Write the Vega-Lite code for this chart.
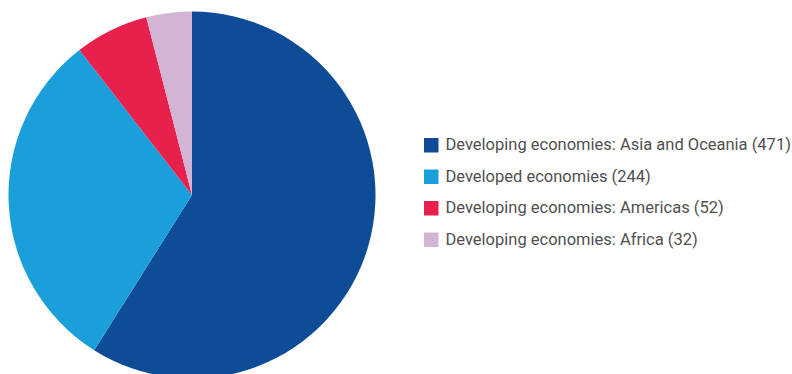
{
  "$schema": "https://vega.github.io/schema/vega-lite/v6.json",
  "width": 792,
  "height": 374,
  "autosize": "none",
  "padding": 0,
  "background": "white",
  "config": {"view": {"stroke": null}},
  "data": {"values": [
    {"label": "Developing economies: Asia and Oceania (471)", "value": 471, "rank": 1},
    {"label": "Developed economies (244)", "value": 244, "rank": 2},
    {"label": "Developing economies: Americas (52)", "value": 52, "rank": 3},
    {"label": "Developing economies: Africa (32)", "value": 32, "rank": 4}
  ]},
  "mark": {"type": "arc", "outerRadius": 183.5, "xOffset": -204, "yOffset": 8},
  "encoding": {
    "theta": {"field": "value", "type": "quantitative", "stack": true},
    "order": {"field": "rank", "type": "quantitative"},
    "color": {
      "field": "label",
      "type": "nominal",
      "sort": {"field": "rank"},
      "scale": {
        "domain": ["Developing economies: Asia and Oceania (471)", "Developed economies (244)", "Developing economies: Americas (52)", "Developing economies: Africa (32)"],
        "range": ["#0f4c97", "#1a9fdb", "#e8204c", "#d4b4d4"]
      },
      "legend": {
        "title": null,
        "orient": "none",
        "legendX": 423,
        "legendY": 137,
        "symbolType": "square",
        "symbolSize": 210,
        "symbolStrokeWidth": 0,
        "labelFont": "Roboto",
        "labelFontSize": 16.5,
        "labelColor": "#505050",
        "labelOffset": 6,
        "rowPadding": 14.5,
        "labelLimit": 400
      }
    }
  }
}
